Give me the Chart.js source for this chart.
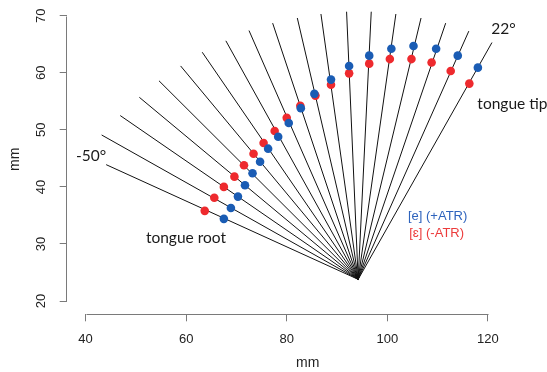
<!DOCTYPE html>
<html>
<head>
<meta charset="utf-8">
<script src="https://cdn.jsdelivr.net/npm/chart.js@4"></script>
<style>
  html, body { margin: 0; padding: 0; background: #fff; overflow: hidden; }
  #wrap { width: 553px; height: 372px; position: relative; }
</style>
</head>
<body>
<div id="wrap"><canvas id="c"></canvas></div>
<script>
// ---- data (mm) ----
const angleDeg   = [-50, -46, -42, -38, -34, -30, -26, -22, -18, -14, -10, -6, -2, 2, 6, 10, 14, 18, 22];
const fanOriginX = 94.2;
const fanOriginY = 23.8;
const lineEndX   = [44.1, 43.2, 46.9, 50.7, 54.6, 58.9, 63.2, 67.9, 72.5, 77.2, 82.1, 86.8, 91.9, 96.8, 101.7, 106.7, 111.6, 116.2, 120.8];
const lineEndY   = [43.9, 49.1, 52.5, 55.7, 58.6, 61.2, 63.6, 65.6, 67.4, 68.7, 69.6, 70.3, 70.7, 70.7, 70.3, 69.6, 68.7, 67.3, 65.3];
const plusAtrX   = [67.5, 68.9, 70.3, 71.7, 73.2, 74.7, 76.3, 78.3, 80.4, 82.8, 85.5, 88.8, 92.4, 96.4, 100.8, 105.2, 109.7, 114.0, 118.0];
const plusAtrY   = [34.4, 36.3, 38.3, 40.3, 42.4, 44.4, 46.7, 48.8, 51.2, 53.8, 56.3, 58.8, 61.2, 63.0, 64.2, 64.7, 64.2, 63.0, 60.9];
const minusAtrX  = [63.7, 65.6, 67.5, 69.6, 71.5, 73.4, 75.4, 77.6, 80.0, 82.7, 85.7, 88.8, 92.4, 96.4, 100.5, 104.8, 108.8, 112.6, 116.3];
const minusAtrY  = [35.8, 38.1, 40.0, 41.8, 43.8, 45.8, 47.7, 49.8, 52.1, 54.2, 56.0, 57.9, 59.9, 61.6, 62.4, 62.4, 61.8, 60.3, 58.1];
const xTicks = [40, 60, 80, 100, 120];
const yTicks = [20, 30, 40, 50, 60, 70];
const seriesNames = ['[e] (+ATR)', '[\u025B] (-ATR)'];

// ---- styling ----
const BLUE = '#1A5CB4', RED = '#EE2A2E';
const AXIS_GRAY = '#7a7a7a';

const datasets = [];
datasets.push({
  label: seriesNames[0],
  data: plusAtrX.map((x, i) => ({ x, y: plusAtrY[i] })),
  backgroundColor: BLUE, borderWidth: 0, pointRadius: 4.3, showLine: false, order: 1
});
datasets.push({
  label: seriesNames[1],
  data: minusAtrX.map((x, i) => ({ x, y: minusAtrY[i] })),
  backgroundColor: RED, borderWidth: 0, pointRadius: 4.3, showLine: false, order: 2
});
angleDeg.forEach((a, i) => {
  datasets.push({
    label: a + '\u00B0',
    data: [{ x: fanOriginX, y: fanOriginY }, { x: lineEndX[i], y: lineEndY[i] }],
    borderColor: '#111', borderWidth: 1, pointRadius: 0, showLine: true, order: 3
  });
});

// text annotations (positions in data units)
const notes = [
  { text: angleDeg[0] + '\u00B0', x: 38.1, y: 45.35, align: 'left', font: '15.5px Lato', color: '#1a1a1a' },
  { text: angleDeg[angleDeg.length - 1] + '\u00B0', x: 120.65, y: 67.75, align: 'left', font: '15.5px Lato', color: '#1a1a1a' },
  { text: 'tongue tip', x: 117.9, y: 54.45, align: 'left', font: '15.5px Lato', color: '#1a1a1a' },
  { text: 'tongue root', x: 52.0, y: 31.0, align: 'left', font: '15.5px Lato', color: '#1a1a1a' },
  { text: seriesNames[0], x: 110.0, y: 34.85, align: 'center', font: '13px "Liberation Sans"', color: '#2E63BD' },
  { text: seriesNames[1], x: 109.8, y: 31.9, align: 'center', font: '13px "Liberation Sans"', color: '#EC3B3B' }
];

const rAxes = {
  id: 'rAxes',
  beforeDatasetsDraw(chart) {
    const { ctx, chartArea, scales } = chart;
    const xs = scales.x, ys = scales.y;
    ctx.save();
    ctx.strokeStyle = AXIS_GRAY;
    ctx.lineWidth = 1;
    const by = Math.round(chartArea.bottom) + 0.5;
    const lx = Math.round(chartArea.left) - 0.5;
    ctx.beginPath();
    ctx.moveTo(Math.round(xs.getPixelForValue(xTicks[0])) + 0.5, by);
    ctx.lineTo(Math.round(xs.getPixelForValue(xTicks[xTicks.length - 1])) + 0.5, by);
    ctx.moveTo(lx, Math.round(ys.getPixelForValue(yTicks[0])) + 0.5);
    ctx.lineTo(lx, Math.round(ys.getPixelForValue(yTicks[yTicks.length - 1])) + 0.5);
    ctx.stroke();
    ctx.restore();
  },
  afterDatasetsDraw(chart) {
    const { ctx, scales } = chart;
    ctx.save();
    ctx.textBaseline = 'middle';
    notes.forEach(n => {
      ctx.font = n.font;
      ctx.fillStyle = n.color;
      ctx.textAlign = n.align;
      ctx.fillText(n.text, scales.x.getPixelForValue(n.x), scales.y.getPixelForValue(n.y));
    });
    ctx.restore();
  }
};

new Chart(document.getElementById('c'), {
  type: 'scatter',
  data: { datasets },
  plugins: [rAxes],
  options: {
    responsive: true,
    maintainAspectRatio: false,
    animation: false,
    layout: { padding: { top: 3.6, left: 0, right: 0, bottom: 0 } },
    plugins: { legend: { display: false }, tooltip: { enabled: false } },
    scales: {
      x: {
        type: 'linear', min: 36.256, max: 132.08,
        afterBuildTicks: s => { s.ticks = xTicks.map(v => ({ value: v })); },
        afterFit: s => { s.height = 57.7; s.paddingLeft = 0; s.paddingRight = 0; },
        grid: { display: true, drawOnChartArea: false, drawTicks: true, tickLength: 7, color: AXIS_GRAY, lineWidth: 1 },
        border: { display: false },
        ticks: { padding: 10, color: '#222', font: { family: 'Liberation Sans', size: 13 }, maxRotation: 0, autoSkip: false },
        title: { display: true, text: 'mm', color: '#222', font: { family: 'Liberation Sans', size: 14 }, padding: { top: 0, bottom: 0.6 } }
      },
      y: {
        type: 'linear', min: 17.675, max: 72,
        afterBuildTicks: s => { s.ticks = yTicks.map(v => ({ value: v })); },
        afterFit: s => { s.width = 66.7; s.paddingTop = 0; s.paddingBottom = 0; },
        grid: { display: true, drawOnChartArea: false, drawTicks: true, tickLength: 7, color: AXIS_GRAY, lineWidth: 1 },
        border: { display: false },
        ticks: { padding: 11, color: '#222', font: { family: 'Liberation Sans', size: 13 }, minRotation: 90, maxRotation: 90, crossAlign: 'center', autoSkip: false },
        title: { display: true, text: 'mm', color: '#222', font: { family: 'Liberation Sans', size: 14 }, padding: { top: 6.6, bottom: 0 } }
      }
    }
  }
});
</script>
</body>
</html>
